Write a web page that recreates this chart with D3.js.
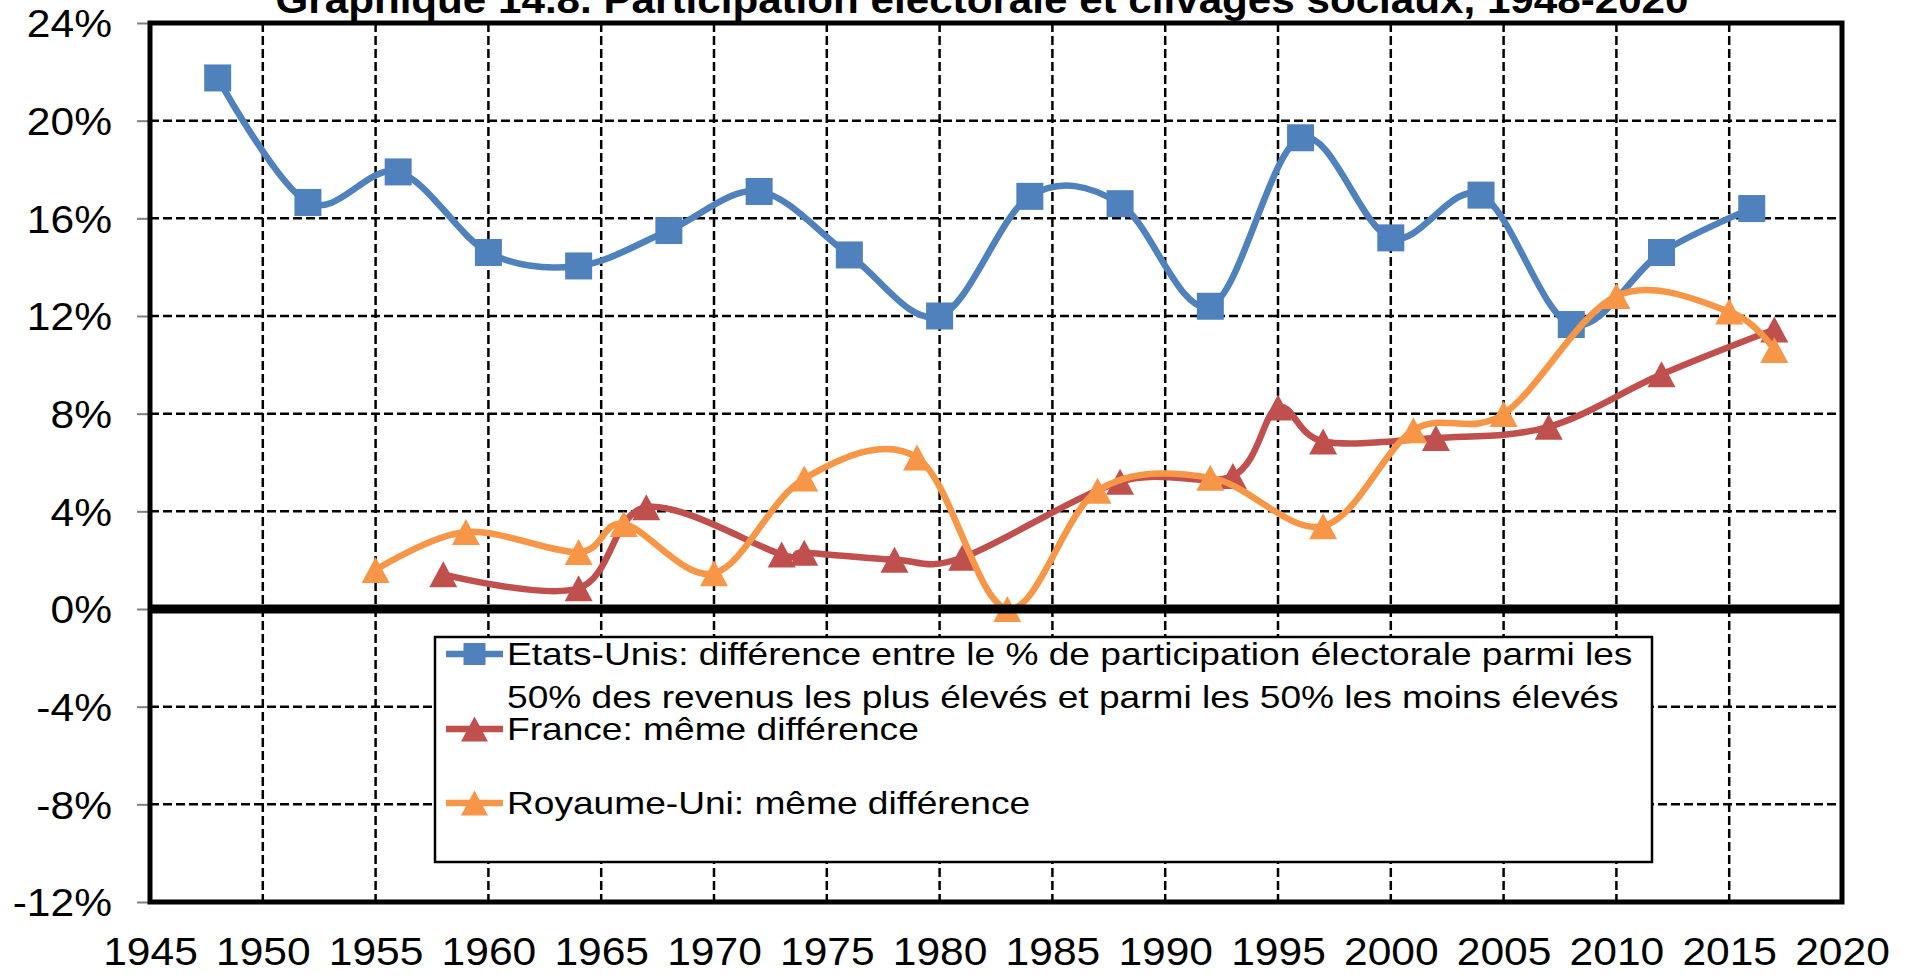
<!DOCTYPE html>
<html lang="fr">
<head>
<meta charset="utf-8">
<title>Participation électorale et clivages sociaux</title>
<script src="https://cdn.jsdelivr.net/npm/d3@7"></script>
<style>
    html, body { margin: 0; padding: 0; background: #fff; }
    svg { display: block; font-family: "Liberation Sans", Arial, sans-serif; }
</style>
</head>
<body>
<div id="chart"></div>
<script>

// --- data (values in %) ---
const chartTitle = "Graphique 14.8. Participation électorale et clivages sociaux, 1948-2020";

const yearTicks = [1945, 1950, 1955, 1960, 1965, 1970, 1975, 1980, 1985, 1990, 1995, 2000, 2005, 2010, 2015, 2020];
const percentTicks = [-12, -8, -4, 0, 4, 8, 12, 16, 20, 24];

const usYears = [1948, 1952, 1956, 1960, 1964, 1968, 1972, 1976, 1980, 1984, 1988, 1992, 1996, 2000, 2004, 2008, 2012, 2016];
const usValues = [21.75, 16.65, 17.9, 14.6, 14.05, 15.5, 17.1, 14.5, 12.0, 16.9, 16.6, 12.4, 19.3, 15.2, 16.95, 11.65, 14.6, 16.4];

const frYears = [1958, 1964, 1967, 1973, 1974, 1978, 1981, 1988, 1993, 1995, 1997, 2002, 2007, 2012, 2017];
const frValues = [1.42, 0.85, 4.17, 2.23, 2.3, 2.02, 2.1, 5.21, 5.45, 8.25, 6.86, 7.0, 7.46, 9.61, 11.45];

const ukYears = [1955, 1959, 1964, 1966, 1970, 1974, 1979, 1983, 1987, 1992, 1997, 2001, 2005, 2010, 2015, 2017];
const ukValues = [1.6, 3.15, 2.33, 3.48, 1.46, 5.34, 6.2, 0.0, 4.84, 5.38, 3.39, 7.32, 7.99, 12.82, 12.18, 10.61];

const seriesLabels = [
    ["Etats-Unis: différence entre le % de participation électorale parmi les",
     "50% des revenus les plus élevés et parmi les 50% les moins élevés"],
    ["France: même différence"],
    ["Royaume-Uni: même différence"]
];
const seriesColors = ["#4F81BD", "#C0504D", "#F79646"];
const seriesMarkers = ["square", "triangle", "triangle"];


class ParticipationChart {

    constructor(width = 1910, height = 975) {

        this.width = width;
        this.height = height;
        this.margin = { top: 23, right: 68, bottom: 73, left: 150 };
        this.stretch = 1.12;   // the original picture is a bit wider than tall
    }

    initialize(divChartId) {

        this.svg = d3.select(divChartId)
            .append("svg")
            .attr("width", this.width)
            .attr("height", this.height);

        this.x = d3.scaleLinear()
            .domain([1945, 2020])
            .range([this.margin.left, this.width - this.margin.right]);

        this.y = d3.scaleLinear()
            .domain([-12, 24])
            .range([this.height - this.margin.bottom, this.margin.top]);
    }

    marker(sel, kind, color, size) {

        if (kind === "square") {
            sel.append("rect")
                .attr("x", -size / 2)
                .attr("y", -size / 2)
                .attr("width", size)
                .attr("height", size)
                .attr("fill", color);
        } else {
            const w = size + 1, h = size - 1;
            sel.append("path")
                .attr("d", `M0,${-h / 2}L${w / 2},${h / 2}L${-w / 2},${h / 2}Z`)
                .attr("fill", color);
        }
    }

    update(series) {

        const x = this.x, y = this.y, svg = this.svg;
        const x0 = x(1945), x1 = x(2020), yTop = y(24), yBottom = y(-12);

        // dashed grid
        const grid = svg.append("g").attr("class", "grid")
            .attr("stroke", "#000")
            .attr("stroke-width", 2.5)
            .attr("stroke-dasharray", "9,4");

        grid.selectAll(".vgrid")
            .data(yearTicks.filter(d => d > 1945 && d < 2020))
            .enter()
            .append("line")
            .attr("x1", d => x(d)).attr("x2", d => x(d))
            .attr("y1", yTop).attr("y2", yBottom);

        grid.selectAll(".hgrid")
            .data(percentTicks.filter(d => d > -12 && d < 24 && d !== 0))
            .enter()
            .append("line")
            .attr("x1", x0).attr("x2", x1)
            .attr("y1", d => y(d)).attr("y2", d => y(d));

        // y axis
        const yAxis = svg.append("g")
            .attr("transform", `translate(${x0},0)`)
            .call(d3.axisLeft(y).tickValues(percentTicks).tickSize(13).tickFormat(d => d + "%"))
            .attr("font-family", null)
            .attr("font-size", null);

        yAxis.select(".domain").remove();
        yAxis.selectAll(".tick line").attr("stroke", "#808080").attr("stroke-width", 2);
        yAxis.selectAll(".tick text")
            .attr("fill", "#000")
            .attr("font-size", 38)
            .attr("x", -38 / this.stretch)
            .attr("dy", "0.36em")
            .attr("transform", `scale(${this.stretch},1)`);

        // x axis
        const xAxis = svg.append("g")
            .attr("transform", `translate(0,${yBottom})`)
            .call(d3.axisBottom(x).tickValues(yearTicks).tickSize(0).tickPadding(36).tickFormat(d3.format("d")))
            .attr("font-family", null)
            .attr("font-size", null);

        xAxis.select(".domain").remove();
        xAxis.selectAll(".tick text")
            .attr("fill", "#000")
            .attr("font-size", 38)
            .attr("transform", `scale(${this.stretch},1)`);

        // plot frame
        svg.append("rect")
            .attr("x", x0).attr("y", yTop)
            .attr("width", x1 - x0).attr("height", yBottom - yTop)
            .attr("fill", "none")
            .attr("stroke", "#000")
            .attr("stroke-width", 5);

        // series: smoothed line then markers
        const line = d3.line()
            .x(d => x(d.year))
            .y(d => y(d.value))
            .curve(d3.curveCardinal.tension(0));

        series.forEach(s => {

            svg.append("path")
                .datum(s.points)
                .attr("d", line)
                .attr("fill", "none")
                .attr("stroke", s.color)
                .attr("stroke-width", 6.5)
                .attr("stroke-linejoin", "round");

            const self = this;
            svg.append("g")
                .selectAll("g")
                .data(s.points)
                .enter()
                .append("g")
                .attr("transform", d => `translate(${x(d.year)},${y(d.value)})`)
                .each(function() { self.marker(d3.select(this), s.marker, s.color, 27); });
        });

        // zero line
        svg.append("line")
            .attr("x1", x0).attr("x2", x1)
            .attr("y1", y(0)).attr("y2", y(0))
            .attr("stroke", "#000")
            .attr("stroke-width", 9);

        // title (cut at the top of the picture)
        svg.append("text")
            .attr("transform", `translate(982,12.5) scale(1.11,1)`)
            .attr("text-anchor", "middle")
            .attr("font-size", 38)
            .attr("font-weight", "bold")
            .text(chartTitle);

        // legend
        const legend = svg.append("g").attr("class", "legend");

        legend.append("rect")
            .attr("x", 435).attr("y", 637)
            .attr("width", 1217).attr("height", 225)
            .attr("fill", "#fff")
            .attr("stroke", "#000")
            .attr("stroke-width", 2.5);

        const rowY = [654, 729, 803];

        const item = legend.selectAll(".legend-item")
            .data(series)
            .enter()
            .append("g")
            .attr("class", "legend-item")
            .attr("transform", (d, i) => `translate(0,${rowY[i]})`);

        item.append("line")
            .attr("x1", 446).attr("x2", 503)
            .attr("stroke", d => d.color)
            .attr("stroke-width", 6.5);

        const self = this;
        item.append("g")
            .attr("transform", "translate(474.5,0)")
            .each(function(d) { self.marker(d3.select(this), d.marker, d.color, d.marker === "square" ? 22 : 26); });

        item.append("text")
            .attr("transform", "translate(507,11) scale(1.16,1)")
            .attr("font-size", 32)
            .selectAll("tspan")
            .data(d => d.label)
            .enter()
            .append("tspan")
            .attr("x", 0)
            .attr("y", (d, i) => i * 43)
            .text(d => d);
    }
}

const series = [
    { years: usYears, values: usValues },
    { years: frYears, values: frValues },
    { years: ukYears, values: ukValues }
].map((s, i) => ({
    label: seriesLabels[i],
    color: seriesColors[i],
    marker: seriesMarkers[i],
    points: s.years.map((year, j) => ({ year, value: s.values[j] }))
}));

const chart = new ParticipationChart();
chart.initialize("#chart");
chart.update(series);

</script>
</body>
</html>
